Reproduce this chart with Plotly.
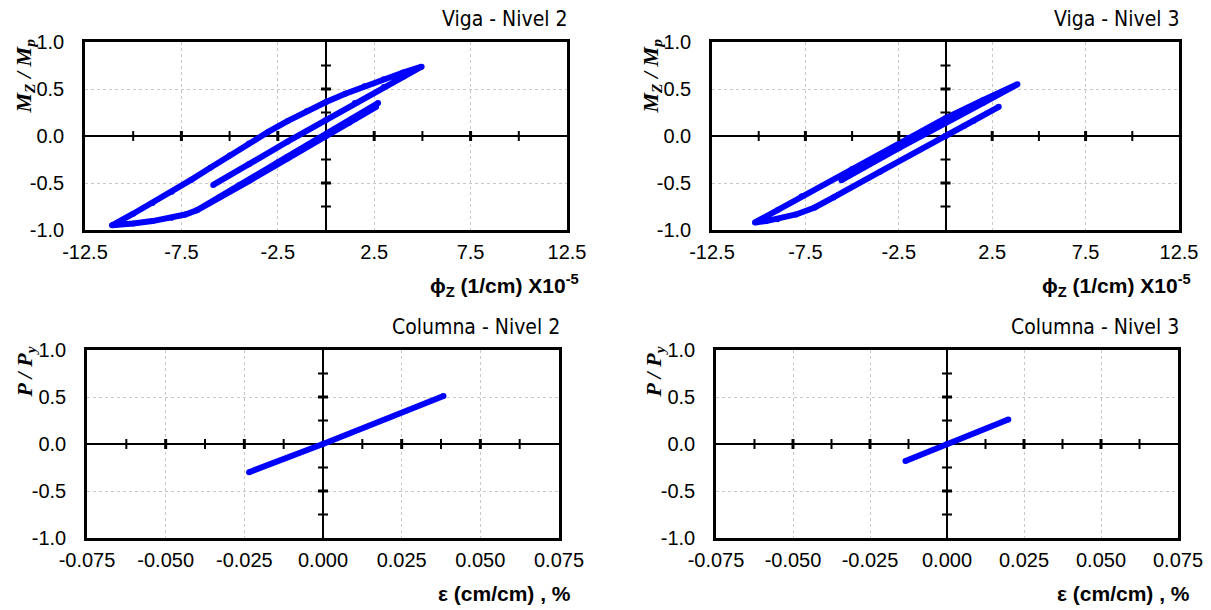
import plotly.graph_objects as go

# ---------------- data ----------------
# Viga - Nivel 2 : curvature (x1e-5 1/cm) vs Mz/Mp  (load path)
phi_v2 = [0.0, 1.2, 2.6, 1.5, 0.0, -2.0, -4.0, -5.5, -6.7, -5.0, -2.5, 0.0, 2.7,
          0.5, -2.0, -4.5, -6.7, -7.3, -8.0, -9.0, -10.0, -11.1,
          -10.0, -9.0, -8.0, -7.0, -6.0, -5.0, -4.0, -3.0, -2.0, -1.0, 0.0,
          1.0, 2.0, 3.0, 4.0, 4.96,
          4.0, 3.0, 1.5, 0.0, -2.0, -4.0, -5.85]
m_v2 = [0.0, 0.14, 0.31, 0.18, 0.0, -0.24, -0.48, -0.65, -0.79, -0.59, -0.28, 0.02, 0.35,
        0.08, -0.22, -0.52, -0.79, -0.835, -0.87, -0.905, -0.93, -0.95,
        -0.827, -0.712, -0.592, -0.467, -0.337, -0.207, -0.079, 0.043, 0.158, 0.264, 0.362,
        0.45, 0.53, 0.605, 0.675, 0.738,
        0.63, 0.52, 0.35, 0.17, -0.06, -0.30, -0.52]

# Viga - Nivel 3
phi_v3 = [0.0, 1.5, 2.85, 1.0, 0.0, -3.5, -6.0, -7.0, -8.0, -9.0, -9.6, -10.2,
          -9.0, -7.7, -5.0, -2.0, 0.0, 2.0, 3.85,
          2.0, 0.0, -2.5, -5.57]
m_v3 = [0.0, 0.16, 0.31, 0.11, 0.0, -0.38, -0.654, -0.76, -0.835, -0.885, -0.905, -0.92,
        -0.79, -0.64, -0.35, -0.02, 0.19, 0.38, 0.55,
        0.35, 0.14, -0.13, -0.47]

# Columna - Nivel 2 : strain (%) vs P/Py
eps_c2 = [-0.0235, 0.0, 0.0383]
p_c2 = [-0.30, 0.0, 0.51]

# Columna - Nivel 3
eps_c3 = [-0.0135, 0.0, 0.0199]
p_c3 = [-0.18, 0.0, 0.26]

# tick values / labels
phi_ticks = [-12.5, -7.5, -2.5, 2.5, 7.5, 12.5]
phi_ticklabels = ["-12.5", "-7.5", "-2.5", "2.5", "7.5", "12.5"]
eps_ticks = [-0.075, -0.05, -0.025, 0.0, 0.025, 0.05, 0.075]
eps_ticklabels = ["-0.075", "-0.050", "-0.025", "0.000", "0.025", "0.050", "0.075"]
y_ticks = [-1.0, -0.5, 0.0, 0.5, 1.0]
y_ticklabels = ["-1.0", "-0.5", "0.0", "0.5", "1.0"]

# tick marks drawn on the zero axes
phi_major = [-7.5, -2.5, 2.5, 7.5]
phi_minor = [-10.0, -5.0, 5.0, 10.0]
eps_major = [-0.05, -0.025, 0.025, 0.05]
eps_minor = [-0.0625, -0.0375, -0.0125, 0.0125, 0.0375, 0.0625]
y_major = [-0.5, 0.5]
y_minor = [-0.75, -0.25, 0.25, 0.75]

titles = ["Viga - Nivel 2", "Viga - Nivel 3", "Columna - Nivel 2", "Columna - Nivel 3"]

# ---------------- layout geometry ----------------
OFF = 8                      # page body margin of the html page
W, H = 1211 - OFF, 610 - OFF  # figure size
panels = [  # (left, right, top, bottom) in screenshot px
    (85, 567, 42, 230),
    (712, 1179, 42, 230),
    (87, 559, 350, 538),
    (716, 1178, 350, 538),
]


def px(v):
    return (v - OFF) / W


def py(v):
    return 1 - (v - OFF) / H


fig = go.Figure()
BLUE = "#0000FF"
series = [(phi_v2, m_v2), (phi_v3, m_v3), (eps_c2, p_c2), (eps_c3, p_c3)]
for i, (xs, ys) in enumerate(series):
    sfx = "" if i == 0 else str(i + 1)
    fig.add_trace(go.Scatter(x=xs, y=ys, mode="lines+markers",
                             line=dict(color=BLUE, width=6),
                             marker=dict(color=BLUE, size=6, line=dict(width=0)),
                             xaxis="x" + sfx, yaxis="y" + sfx,
                             showlegend=False, hoverinfo="skip"))

tickfont = dict(family="Liberation Sans, Arial, sans-serif", size=20, color="black")
layout = dict(width=W, height=H, margin=dict(l=0, r=0, t=0, b=0, autoexpand=False),
              paper_bgcolor="white", plot_bgcolor="white", showlegend=False)

shapes = []
annotations = []
for i, (l, r, t, b) in enumerate(panels):
    sfx = "" if i == 0 else str(i + 1)
    is_phi = i < 2
    xd = [px(l), px(r)]
    yd = [py(b), py(t)]
    if is_phi:
        xax = dict(range=[-12.5, 12.5], tickvals=phi_ticks, ticktext=phi_ticklabels)
    else:
        xax = dict(range=[-0.075, 0.075], tickvals=eps_ticks, ticktext=eps_ticklabels)
    common = dict(showline=True, mirror=True, automargin=False,
                  linecolor="black", linewidth=2.5, ticks="", showgrid=True,
                  gridcolor="#c8c8c8", griddash="dot", gridwidth=1,
                  zeroline=True, zerolinecolor="black", zerolinewidth=2,
                  tickfont=tickfont, fixedrange=True)
    xax.update(domain=xd, anchor="y" + sfx, tickmode="array", ticklabelstandoff=2, **common)
    yax = dict(range=[-1.0, 1.0], tickmode="array", tickvals=y_ticks, ticktext=y_ticklabels,
               domain=yd, anchor="x" + sfx, ticklabelstandoff=14, **common)
    layout["xaxis" + sfx] = xax
    layout["yaxis" + sfx] = yax

    xref, yref = "x" + sfx, "y" + sfx
    majors = phi_major if is_phi else eps_major
    minors = phi_minor if is_phi else eps_minor
    for v, w in [(v, 3) for v in majors] + [(v, 2) for v in minors]:
        shapes.append(dict(type="line", xref=xref, yref=yref, x0=v, x1=v,
                           ysizemode="pixel", yanchor=0, y0=-5, y1=5,
                           line=dict(color="black", width=w), layer="above"))
    for v, w in [(v, 3) for v in y_major] + [(v, 2) for v in y_minor]:
        shapes.append(dict(type="line", xref=xref, yref=yref, y0=v, y1=v,
                           xsizemode="pixel", xanchor=0, x0=-5, x1=5,
                           line=dict(color="black", width=w), layer="above"))

    # panel title
    annotations.append(dict(text=titles[i], xref="paper", yref="paper",
                            x=px(r + 3), y=py(t - 23), xanchor="right", yanchor="middle",
                            showarrow=False,
                            font=dict(family="Liberation Sans Narrow, Arial Narrow, DejaVu Sans Condensed, sans-serif",
                                      size=21, color="black")))
    # x axis title
    xt = "<b>ϕ<sub>Z</sub> (1/cm) X10<sup>-5</sup></b>" if is_phi else "<b>ε (cm/cm) , %</b>"
    annotations.append(dict(text=xt, xref="paper", yref="paper",
                            x=px(r + 14), y=py(b + 55), xanchor="right", yanchor="middle",
                            showarrow=False,
                            font=dict(family="Liberation Sans, Arial, sans-serif", size=21, color="black")))
    # y axis title
    yt = "<b><i>M<sub>Z</sub> / M<sub>p</sub></i></b>" if is_phi else "<b><i>P / P<sub>y</sub></i></b>"
    annotations.append(dict(text=yt, xref="paper", yref="paper", textangle=-90,
                            x=px(l - 61), y=py(t - 5), xanchor="center", yanchor="top",
                            showarrow=False,
                            font=dict(family="Liberation Serif, Times New Roman, serif", size=22, color="black")))

layout["shapes"] = shapes
layout["annotations"] = annotations
fig.update_layout(**layout)
fig.write_html("out.html")
